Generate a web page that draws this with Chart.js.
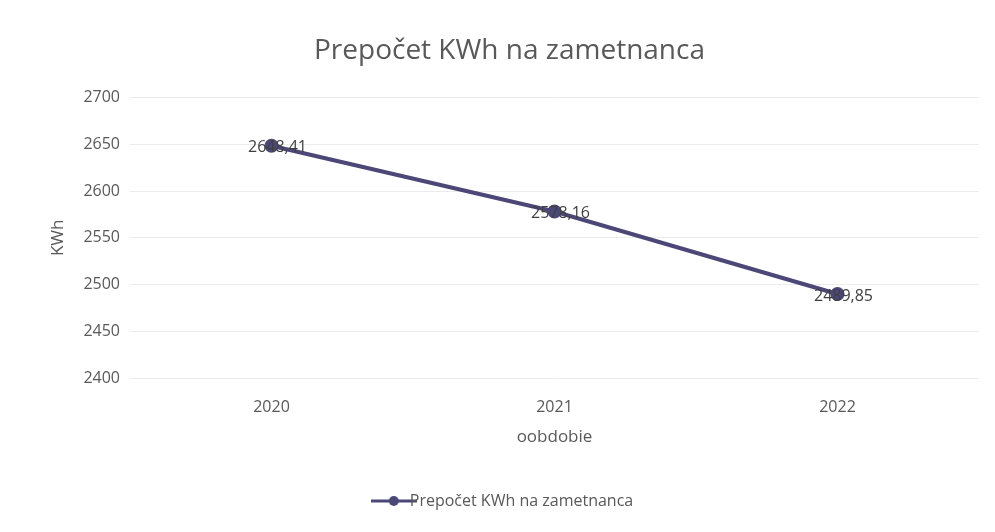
<!DOCTYPE html>
<html>
<head>
<meta charset="utf-8">
<script src="https://cdn.jsdelivr.net/npm/chart.js@4/dist/chart.umd.min.js"></script>
<style>
  html, body { margin: 0; padding: 0; background: #fff; }
  #wrap { width: 995px; height: 532px; }
</style>
</head>
<body>
<div id="wrap"><canvas id="chart"></canvas></div>
<script>
const years = ['2020', '2021', '2022'];
const kwhValues = [2648.41, 2578.16, 2489.85];
const seriesName = 'Prepočet KWh na zametnanca';

const lineColor = '#4b4878';
const textColor = '#595959';
const font = "'Open Sans', 'Liberation Sans', sans-serif";

// legend marker: line with a dot in the middle
const legendIcon = document.createElement('canvas');
legendIcon.width = 46; legendIcon.height = 12;
(function () {
  const c = legendIcon.getContext('2d');
  c.strokeStyle = lineColor; c.lineWidth = 3;
  c.beginPath(); c.moveTo(0, 6); c.lineTo(46, 6); c.stroke();
  c.fillStyle = lineColor;
  c.beginPath(); c.arc(23, 6, 5, 0, Math.PI * 2); c.fill();
})();

// value labels centred on the points, comma as decimal mark
const valueLabels = {
  id: 'valueLabels',
  afterDatasetsDraw(chart) {
    const ctx = chart.ctx;
    const meta = chart.getDatasetMeta(0);
    ctx.save();
    ctx.font = '16px ' + font;
    ctx.fillStyle = '#404040';
    ctx.textAlign = 'center';
    ctx.textBaseline = 'middle';
    meta.data.forEach((pt, i) => {
      const txt = kwhValues[i].toFixed(2).replace('.', ',');
      ctx.fillText(txt, pt.x + 6, pt.y + 2);
    });
    ctx.restore();
  }
};

new Chart(document.getElementById('chart'), {
  type: 'line',
  data: {
    labels: years,
    datasets: [{
      label: seriesName,
      data: kwhValues,
      borderColor: lineColor,
      backgroundColor: lineColor,
      borderWidth: 4,
      pointRadius: 5,
      pointBackgroundColor: lineColor,
      tension: 0
    }]
  },
  options: {
    responsive: true,
    maintainAspectRatio: false,
    animation: false,
    layout: { padding: { left: 40, right: 16, top: 0, bottom: 13 } },
    plugins: {
      title: {
        display: true,
        text: seriesName,
        color: textColor,
        font: { family: font, size: 28, weight: 'normal' },
        padding: { top: 34, bottom: 30 }
      },
      legend: {
        position: 'bottom',
        labels: {
          color: textColor,
          font: { family: font, size: 16 },
          usePointStyle: true,
          padding: 4,
          generateLabels: chart => [{
            text: seriesName,
            fontColor: textColor,
            pointStyle: legendIcon,
            datasetIndex: 0,
            hidden: false,
            lineWidth: 0
          }]
        }
      },
      tooltip: { enabled: false }
    },
    scales: {
      x: {
        offset: true,
        grid: { display: false },
        border: { display: false },
        ticks: { color: textColor, font: { family: font, size: 16 }, padding: 12 },
        title: { display: true, text: 'oobdobie', color: textColor, font: { family: font, size: 17 }, padding: { top: 0, bottom: 42 } },
        afterFit: s => { s.height = 111; }
      },
      y: {
        min: 2400,
        max: 2700,
        ticks: {
          stepSize: 50, color: textColor, font: { family: font, size: 16 }, padding: 10,
          callback: v => String(v)
        },
        grid: { color: '#ececec', drawTicks: false },
        border: { display: false },
        title: { display: true, text: 'KWh', color: textColor, font: { family: font, size: 17 }, padding: 8 },
        afterFit: s => { s.width = 90; }
      }
    }
  },
  plugins: [valueLabels]
});
</script>
</body>
</html>
